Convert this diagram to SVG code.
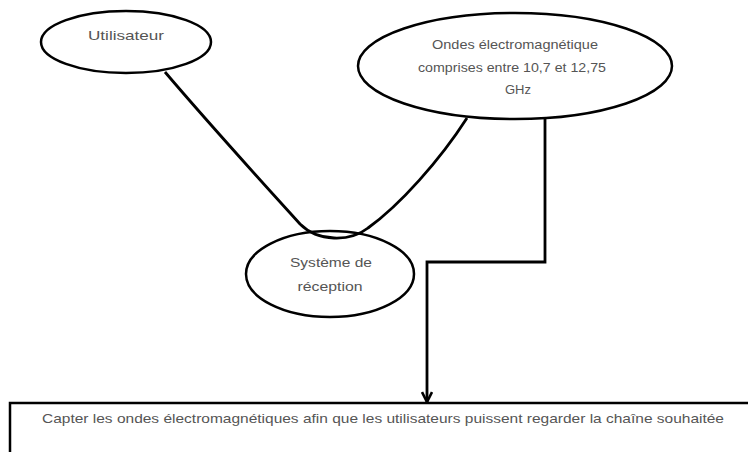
<svg xmlns="http://www.w3.org/2000/svg" width="748" height="452" viewBox="0 0 748 452">
  <style>
    .shape { fill: #ffffff; stroke: #000000; stroke-width: 2.5; }
    .label { font-family: "Liberation Sans", Arial, sans-serif; font-size: 13px; fill: #555555; text-anchor: middle; }
    .wire { fill: none; stroke: #000000; stroke-width: 2.8; }
  </style>
  <defs>
    <marker id="arrow" viewBox="0 0 12 12" refX="11" refY="6" markerWidth="12" markerHeight="12" markerUnits="userSpaceOnUse" orient="auto">
      <path d="M1,1 L11,6 L1,11" fill="none" stroke="#000000" stroke-width="2.6"/>
    </marker>
  </defs>

  <rect width="748" height="452" fill="#ffffff"/>

  <g id="utilisateur">
    <ellipse class="shape" cx="126" cy="42" rx="85" ry="31"/>
    <text class="label" x="126" y="40" textLength="76" lengthAdjust="spacingAndGlyphs">Utilisateur</text>
  </g>

  <g id="ondes">
    <ellipse class="shape" cx="515" cy="66" rx="157" ry="53"/>
    <text class="label" x="515" y="49" textLength="166" lengthAdjust="spacingAndGlyphs">Ondes électromagnétique</text>
    <text class="label" x="512" y="72" textLength="188" lengthAdjust="spacingAndGlyphs">comprises entre 10,7 et 12,75</text>
    <text class="label" x="518" y="94">GHz</text>
  </g>

  <g id="systeme">
    <ellipse class="shape" cx="330" cy="274" rx="84" ry="43"/>
    <text class="label" x="331" y="267" textLength="82" lengthAdjust="spacingAndGlyphs">Système de</text>
    <text class="label" x="330" y="291" textLength="65" lengthAdjust="spacingAndGlyphs">réception</text>
  </g>

  <g id="objectif">
    <rect class="shape" x="10" y="403" width="760" height="70"/>
    <text class="label" x="383" y="423" textLength="682" lengthAdjust="spacingAndGlyphs">Capter les ondes électromagnétiques afin que les utilisateurs puissent regarder la chaîne souhaitée</text>
  </g>

  <!-- drawn last so the curve stays visible where it dips into the reception ellipse -->
  <g id="connectors">
    <path class="wire" d="M165,72 C210,125 262,182 300,224 C318,242 350,242 368,228 C400,205 440,160 467,118"/>
    <path class="wire" d="M545,118 L545,262 L427,262 L427,402" marker-end="url(#arrow)"/>
  </g>
</svg>
